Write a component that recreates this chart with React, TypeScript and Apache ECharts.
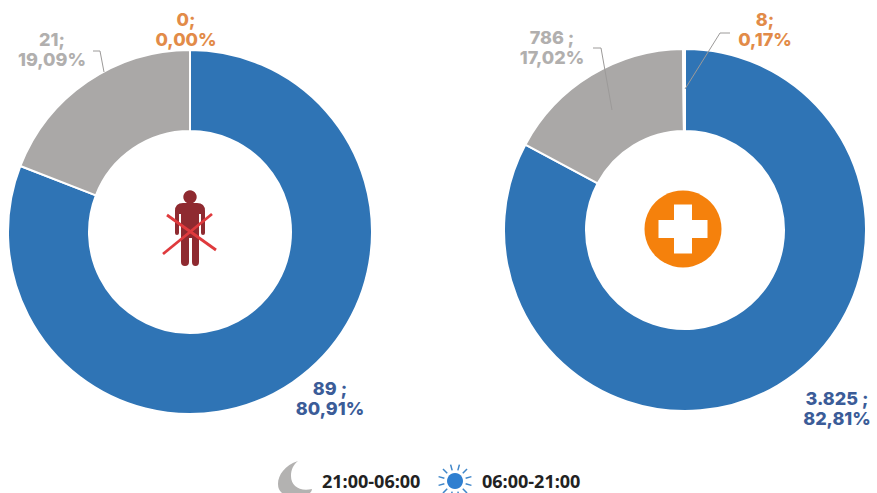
import React, { useEffect, useRef } from "react";
import * as echarts from "echarts";

const categories = ["06:00-21:00", "21:00-06:00", "Other"];
const leftValues = [89, 21, 0];
const rightValues = [3825, 786, 8];
const leftCounts = ["89 ;", "21;", "0;"];
const rightCounts = ["3.825 ;", "786 ;", "8;"];
const legendNames = ["21:00-06:00", "06:00-21:00"];

const BLUE = "#2f74b5";
const GRAY = "#aaa8a7";
const ORANGE = "#f2861f";
const labelColors = ["#3b5c98", "#b1afae", "#e28b48"];

const leftLabelPos = [[330, 398], [52, 49], [186, 29]];
const rightLabelPos = [[837, 408], [552, 47], [765, 29]];

const pct = (v: number, all: number[]) =>
  ((v / all.reduce((a, b) => a + b, 0)) * 100).toFixed(2).replace(".", ",") + "%";

const PERSON =
  "M183 203 L197 203 Q205 203 205 211 L205 233 Q205 235 203 235 Q201 235 201 233 L201 214 L199 214 L199 262 Q199 266 195.5 266 Q192 266 192 262 L192 238 L189 238 L189 262 Q189 266 185 266 Q181 266 181 262 L181 214 L179 214 L179 233 Q179 235 177 235 Q175 235 175 233 L175 211 Q175 203 183 203 Z";
const MOON =
  "M298 461 C285 465 278 475 278 484 Q278 490 282 493 L310 493 Q312 491 312 489 C300 492 291 486 291 476 C291 470 293 465 298 461 Z";
echarts.graphic.registerShape("personShape", echarts.graphic.extendPath(PERSON, {}) as any);
echarts.graphic.registerShape("moonShape", echarts.graphic.extendPath(MOON, {}) as any);

function pieSeries(values: number[], counts: string[], center: number[], radius: number[], pos: number[][]) {
  return {
    type: "pie",
    center,
    radius,
    startAngle: 90,
    clockwise: true,
    stillShowZeroSum: true,
    avoidLabelOverlap: false,
    silent: true,
    itemStyle: { borderColor: "#fff", borderWidth: 2 },
    labelLine: { show: false },
    label: {
      show: true,
      position: "outside",
      formatter: (p: any) => `${counts[p.dataIndex]}\n${pct(values[p.dataIndex], values)}`,
      fontFamily: "Inter",
      fontWeight: 800,
      fontSize: 18,
      lineHeight: 20,
      width: 120,
      overflow: "none",
      align: "center",
      verticalAlign: "middle",
    },
    labelLayout: (p: any) => ({ x: pos[p.dataIndex][0], y: pos[p.dataIndex][1], align: "center", verticalAlign: "middle", hideOverlap: false }),
    data: categories.map((name, i) => ({
      name,
      value: values[i],
      itemStyle: { color: [BLUE, GRAY, ORANGE][i] },
      label: { color: labelColors[i] },
    })),
  };
}

const rayAngles = [15, 45, 75, 105, 135, 165, 195, 225, 255, 285, 315, 345];

export default function App() {
  const ref = useRef<HTMLDivElement>(null);
  useEffect(() => {
    const chart = echarts.init(ref.current!, undefined, { renderer: "svg" });
    const line = (points: number[][], color = "#9c9a99") => ({
      type: "polyline",
      shape: { points },
      style: { stroke: color, lineWidth: 1, fill: "none" },
      z: 20,
    });
    const sx = 455, sy = 481;
    const rays = rayAngles.map((a) => {
      const r = (a * Math.PI) / 180;
      return {
        type: "line",
        shape: {
          x1: sx + Math.cos(r) * 11,
          y1: sy + Math.sin(r) * 11,
          x2: sx + Math.cos(r) * 17,
          y2: sy + Math.sin(r) * 17,
        },
        style: { stroke: "#3f86c9", lineWidth: 1.5 },
      };
    });
    chart.setOption({
      animation: false,
      backgroundColor: "#fff",
      series: [
        pieSeries(leftValues, leftCounts, [190, 232], [101, 182], leftLabelPos),
        pieSeries(rightValues, rightCounts, [685, 230], [99, 181], rightLabelPos),
      ],
      graphic: [
        line([[93, 51], [100, 51], [104, 72]]),
        line([[593, 48], [601, 48], [612, 110]]),
        line([[730, 33], [720, 33], [685, 89]]),
        { type: "circle", shape: { cx: 190, cy: 197, r: 6.7 }, style: { fill: "#8f2a30" } },
        { type: "personShape", x: 0, y: 0, style: { fill: "#8f2a30" } },
        { type: "line", shape: { x1: 167, y1: 215, x2: 216, y2: 250 }, style: { stroke: "#df3a3d", lineWidth: 2.8 } },
        { type: "line", shape: { x1: 163, y1: 254, x2: 212, y2: 214 }, style: { stroke: "#df3a3d", lineWidth: 2.8 } },
        { type: "circle", shape: { cx: 683, cy: 229, r: 38.5 }, style: { fill: "#f5810c" } },
        { type: "rect", shape: { x: 674, y: 204.5, width: 18, height: 49 }, style: { fill: "#fff" } },
        { type: "rect", shape: { x: 658.5, y: 220, width: 49, height: 18 }, style: { fill: "#fff" } },
        { type: "moonShape", x: 0, y: 0, style: { fill: "#b3b2b1" } },
        { type: "circle", shape: { cx: sx, cy: sy, r: 8 }, style: { fill: "#2f7fd0" } },
        ...rays,
        {
          type: "text", x: 322, y: 481,
          style: { text: legendNames[0], font: "700 18px 'Open Sans'", fill: "#222", verticalAlign: "middle" },
        },
        {
          type: "text", x: 482, y: 481,
          style: { text: legendNames[1], font: "700 18px 'Open Sans'", fill: "#222", verticalAlign: "middle" },
        },
      ],
    });
    return () => chart.dispose();
  }, []);
  return <div ref={ref} style={{ position: "fixed", left: 0, top: 0, width: 877, height: 493 }} />;
}
